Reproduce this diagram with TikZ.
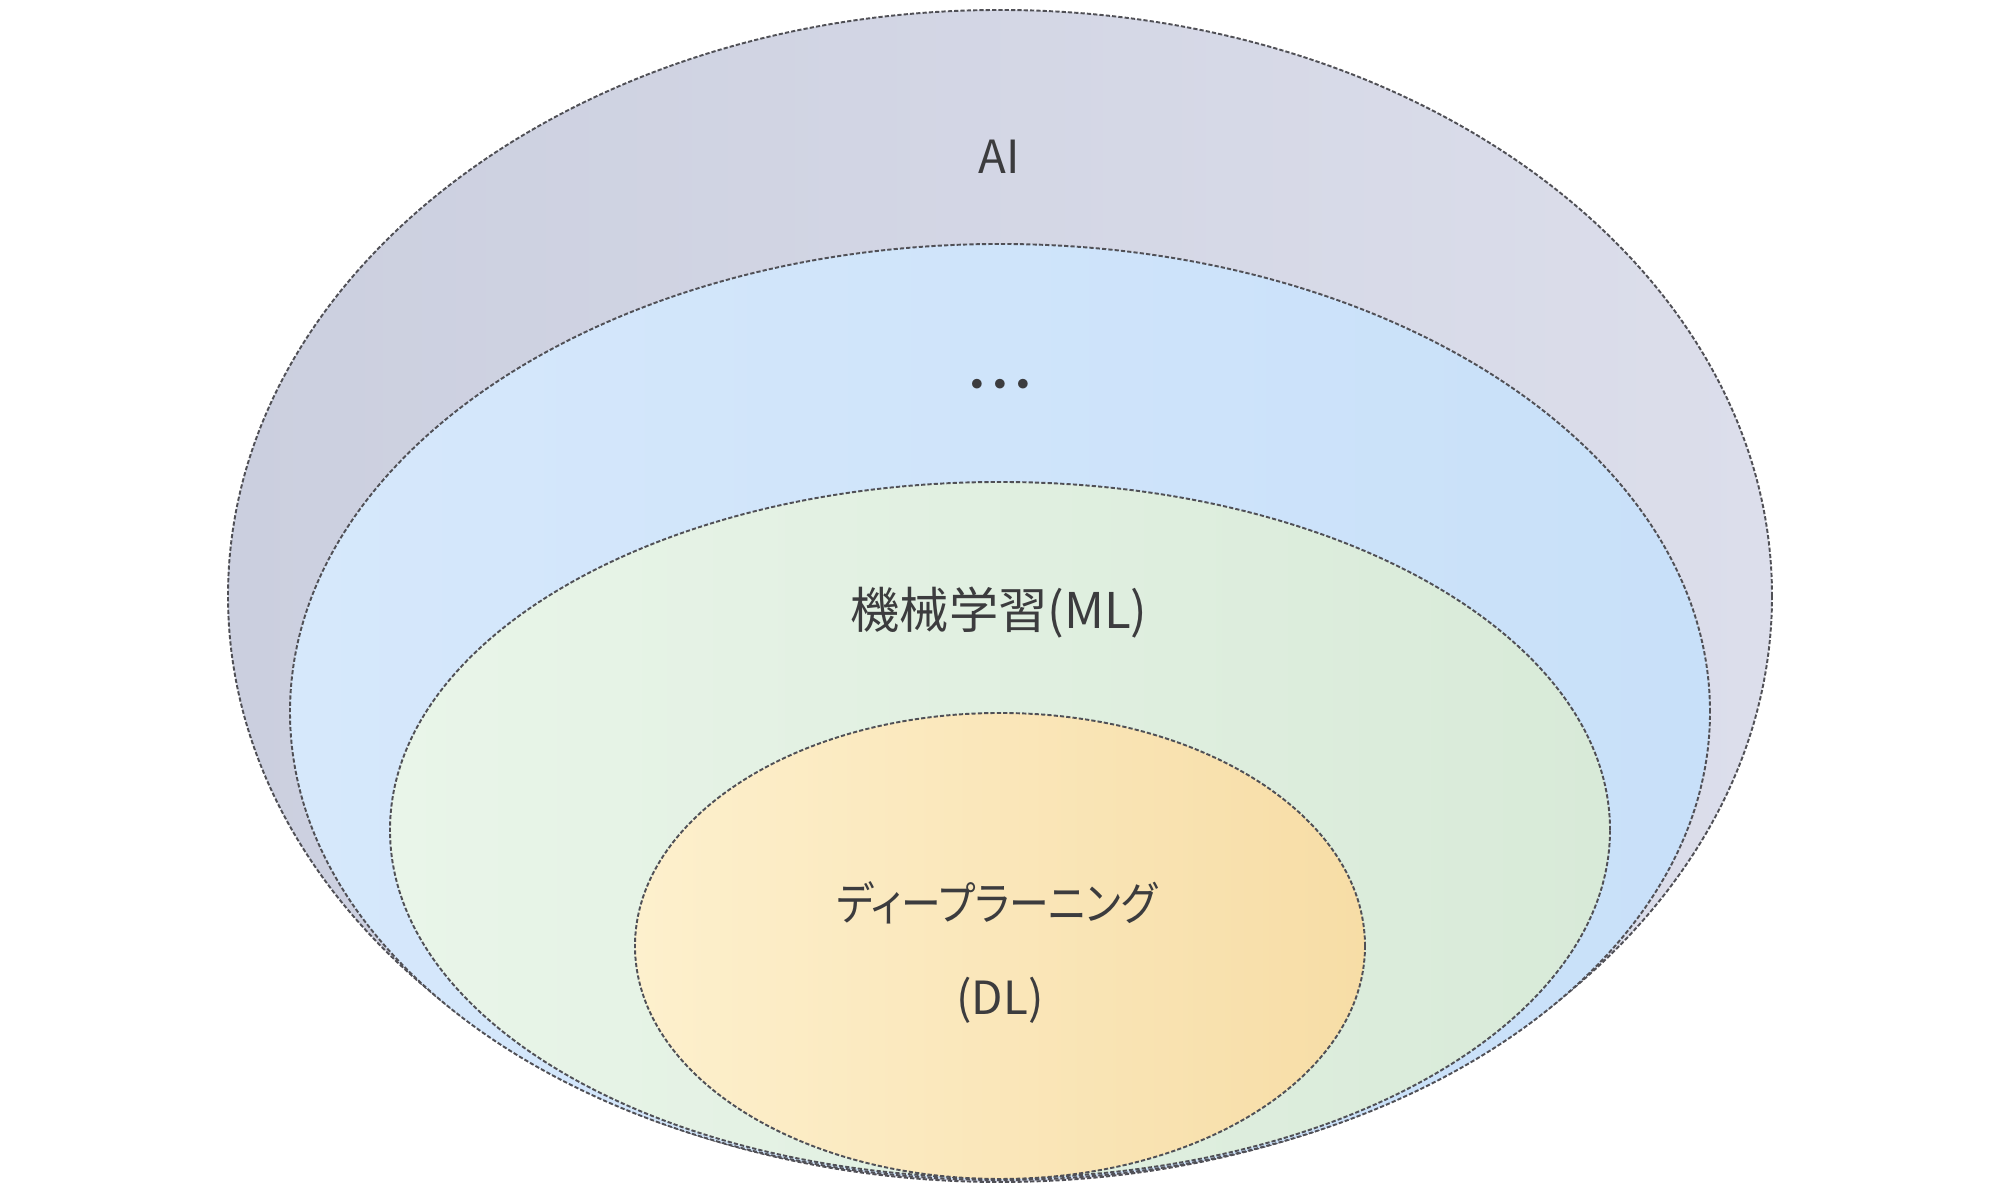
\documentclass[tikz,border=0pt]{standalone}
\usepackage{fontspec}
\usepackage{xcolor}
\usepackage{tikz}
\newfontfamily\jpfont{Noto Sans CJK JP}[RawFeature=+palt]
\newfontfamily\jpnarrow{Noto Sans CJK JP}[RawFeature=+palt, FakeStretch=0.87]
\definecolor{edgegray}{RGB}{80,80,86}
\definecolor{textgray}{RGB}{60,60,62}
\definecolor{aiL}{RGB}{203,207,223}
\definecolor{aiR}{RGB}{220,222,235}
\definecolor{mlpreL}{RGB}{214,232,251}
\definecolor{mlpreR}{RGB}{200,224,249}
\definecolor{mlL}{RGB}{233,245,233}
\definecolor{mlR}{RGB}{216,234,216}
\definecolor{dlL}{RGB}{253,240,205}
\definecolor{dlR}{RGB}{247,221,166}

\begin{document}
\begin{tikzpicture}[
  layer/.style={draw=edgegray, line width=0.55pt, dash pattern=on 1.2pt off 0.6pt},
  label/.style={font=\jpfont\fontsize{13}{15}\selectfont, text=textgray, inner sep=0pt}
]
\useasboundingbox (0,0) rectangle (20,11.9);
\draw [layer, left color=aiL, right color=aiR] (10,5.94) ellipse (7.72 and 5.86);
\draw [layer, left color=mlpreL, right color=mlpreR] (10,4.78) ellipse (7.10 and 4.68);
\draw [layer, left color=mlL, right color=mlR] (10,3.60) ellipse (6.10 and 3.48);
\draw [layer, left color=dlL, right color=dlR] (10,2.44) ellipse (3.65 and 2.33);
\node [label] (ai) at (9.99,10.33) {AI};
\node [label] (etc) at (10,8.00) {・・・};
\node [label, font=\jpfont\fontsize{14}{16}\selectfont] (ml) at (9.99,5.77) {機械学習(ML)};
\node [label, font=\jpnarrow\fontsize{13}{15}\selectfont] (dl) at (9.97,2.87) {ディープラーニング};
\node [label] (dlabbr) at (10,1.90) {(DL)};
\end{tikzpicture}
\end{document}
